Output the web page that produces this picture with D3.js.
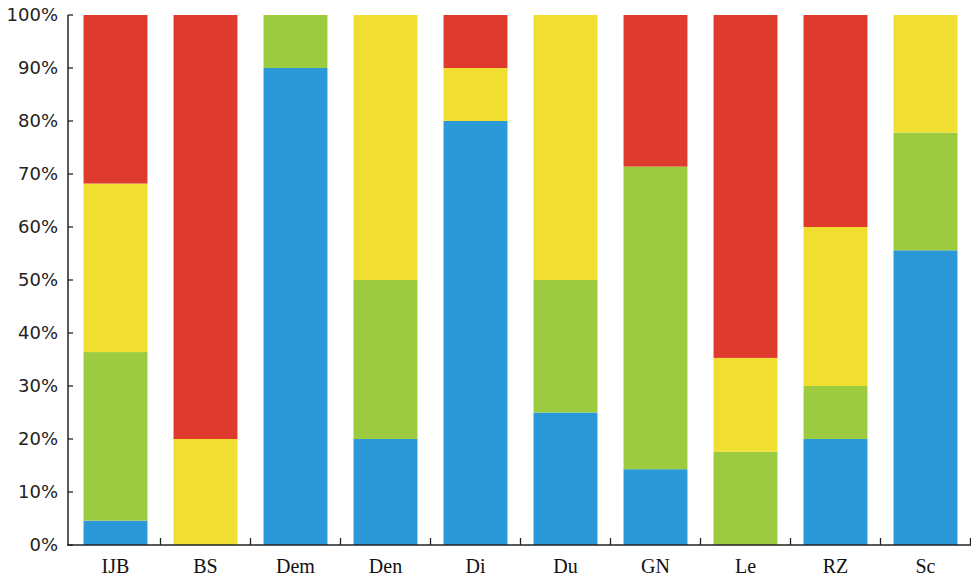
<!DOCTYPE html>
<html>
<head>
<meta charset="utf-8">
<script src="https://cdn.jsdelivr.net/npm/d3@7"></script>
<style>
  html, body { margin: 0; padding: 0; background: #fff; }
  svg { display: block; }
</style>
</head>
<body>
<svg id="chart" width="971" height="577"></svg>
<script>
const categories = ["IJB", "BS", "Dem", "Den", "Di", "Du", "GN", "Le", "RZ", "Sc"];
const blue   = [4.6, 0, 90, 20, 80, 25, 14.3, 0, 20, 55.6];
const green  = [31.8, 0, 10, 30, 0, 25, 57.1, 17.6, 10, 22.2];
const yellow = [31.8, 20, 0, 50, 10, 50, 0, 17.7, 30, 22.2];
const red    = [31.8, 80, 0, 0, 10, 0, 28.6, 64.7, 40, 0];
const yTicks = [0, 10, 20, 30, 40, 50, 60, 70, 80, 90, 100];

const seriesNames = ["blue", "green", "yellow", "red"];
const seriesData = { blue, green, yellow, red };
const colors = { blue: "#2b98d8", green: "#9dcb3f", yellow: "#f0de30", red: "#de3a2e" };

const rows = categories.map((c, i) => {
  const r = { cat: c };
  seriesNames.forEach(s => r[s] = seriesData[s][i]);
  return r;
});
const stacked = d3.stack().keys(seriesNames)(rows);

const svg = d3.select("#chart");
const x = d3.scaleBand().domain(categories).range([70.5, 970.5]).paddingInner(0.29).paddingOuter(0.145);
const y = d3.scaleLinear().domain([0, 100]).range([545, 15]);

svg.append("g").selectAll("g").data(stacked).join("g")
  .attr("fill", d => colors[d.key])
  .selectAll("rect").data(d => d).join("rect")
  .attr("x", d => x(d.data.cat))
  .attr("width", x.bandwidth())
  .attr("y", d => y(d[1]))
  .attr("height", d => Math.max(0, y(d[0]) - y(d[1])));

// Y axis
const yAxis = svg.append("g").attr("transform", "translate(68,0)");
yAxis.append("line").attr("x1", 0).attr("x2", 0).attr("y1", y(100)).attr("y2", y(0))
  .attr("stroke", "#222").attr("stroke-width", 1.5);
yAxis.selectAll("line.tick").data(yTicks).join("line").attr("class", "tick")
  .attr("x1", 0).attr("x2", 5).attr("y1", d => y(d)).attr("y2", d => y(d))
  .attr("stroke", "#222").attr("stroke-width", 1.3);
yAxis.selectAll("text").data(yTicks).join("text")
  .attr("x", -10).attr("y", d => y(d)).attr("dy", "0.36em")
  .attr("text-anchor", "end")
  .attr("font-family", "DejaVu Sans, sans-serif").attr("font-size", 18)
  .attr("fill", "#222").text(d => d + "%");

// X axis
const xAxis = svg.append("g");
xAxis.append("line").attr("x1", 67).attr("x2", 971).attr("y1", 545).attr("y2", 545)
  .attr("stroke", "#222").attr("stroke-width", 1.5);
const boundaries = categories.map(c => x(c) + x.bandwidth() + x.step() * x.paddingInner() / 2);
xAxis.selectAll("line.tick").data(boundaries).join("line").attr("class", "tick")
  .attr("x1", d => d).attr("x2", d => d).attr("y1", 545).attr("y2", 538)
  .attr("stroke", "#222").attr("stroke-width", 1.3);
xAxis.selectAll("text").data(categories).join("text")
  .attr("x", d => x(d) + x.bandwidth() / 2).attr("y", 573)
  .attr("text-anchor", "middle")
  .attr("font-family", "Liberation Serif, serif").attr("font-size", 20)
  .attr("fill", "#111").text(d => d);
</script>
</body>
</html>
